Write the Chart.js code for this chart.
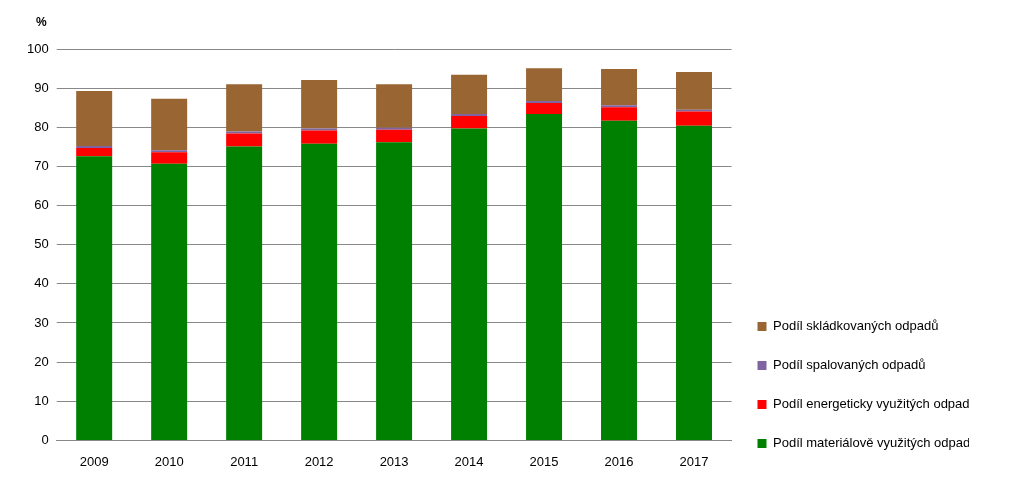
<!DOCTYPE html>
<html><head><meta charset="utf-8">
<script src="https://cdn.jsdelivr.net/npm/chart.js"></script>
<style>body{margin:0;background:#fff}#w{width:1024px;height:488px}</style>
</head><body><div id="w"><canvas id="c"></canvas></div>
<script>
var roky = ['2009','2010','2011','2012','2013','2014','2015','2016','2017'];
var materialove = [72.6, 70.7, 75.1, 75.8, 76.2, 79.7, 83.4, 81.7, 80.4];
var energeticky = [2.1, 2.9, 3.3, 3.4, 3.2, 3.2, 2.8, 3.4, 3.6];
var spalovanych = [0.5, 0.5, 0.5, 0.5, 0.5, 0.5, 0.5, 0.5, 0.5];
var skladkovanych = [14.1, 13.2, 12.1, 12.4, 11.1, 10.0, 8.4, 9.3, 9.6];

Chart.defaults.font.family = 'Liberation Sans, Arial, sans-serif';
Chart.defaults.color = '#000';

const percentLabel = {
    id: 'percentLabel',
    afterDraw(chart) {
        const c = chart.ctx;
        c.save();
        c.font = 'bold 12px Liberation Sans, Arial';
        c.fillStyle = '#000';
        c.fillText('%', 36, 26);
        c.restore();
    }
};

new Chart(document.getElementById('c').getContext('2d'), {
    type: 'bar',
    data: {
        labels: roky,
        datasets: [
            {label: 'Podíl materiálově využitých odpadů', data: materialove, backgroundColor: '#008000'},
            {label: 'Podíl energeticky využitých odpadů', data: energeticky, backgroundColor: '#ff0000'},
            {label: 'Podíl spalovaných odpadů', data: spalovanych, backgroundColor: '#8064a2'},
            {label: 'Podíl skládkovaných odpadů', data: skladkovanych, backgroundColor: '#996633'}
        ]
    },
    options: {
        responsive: true,
        maintainAspectRatio: false,
        animation: false,
        layout: {padding: {top: 49, right: 55, left: 19, bottom: 12}},
        datasets: {bar: {barPercentage: 0.48, categoryPercentage: 1}},
        plugins: {
            legend: {
                position: 'right', align: 'end', reverse: true,
                labels: {boxWidth: 9, boxHeight: 9, padding: 26, font: {size: 13}}
            },
            tooltip: {enabled: false}
        },
        scales: {
            x: {stacked: true, grid: {display: false}, border: {color: '#888'},
                ticks: {font: {size: 13}, padding: 6}},
            y: {stacked: true, min: 0, max: 100, border: {display: false},
                ticks: {stepSize: 10, font: {size: 13}, padding: 8},
                grid: {color: '#888', tickLength: 0}}
        }
    },
    plugins: [percentLabel]
});
</script>
</body></html>
